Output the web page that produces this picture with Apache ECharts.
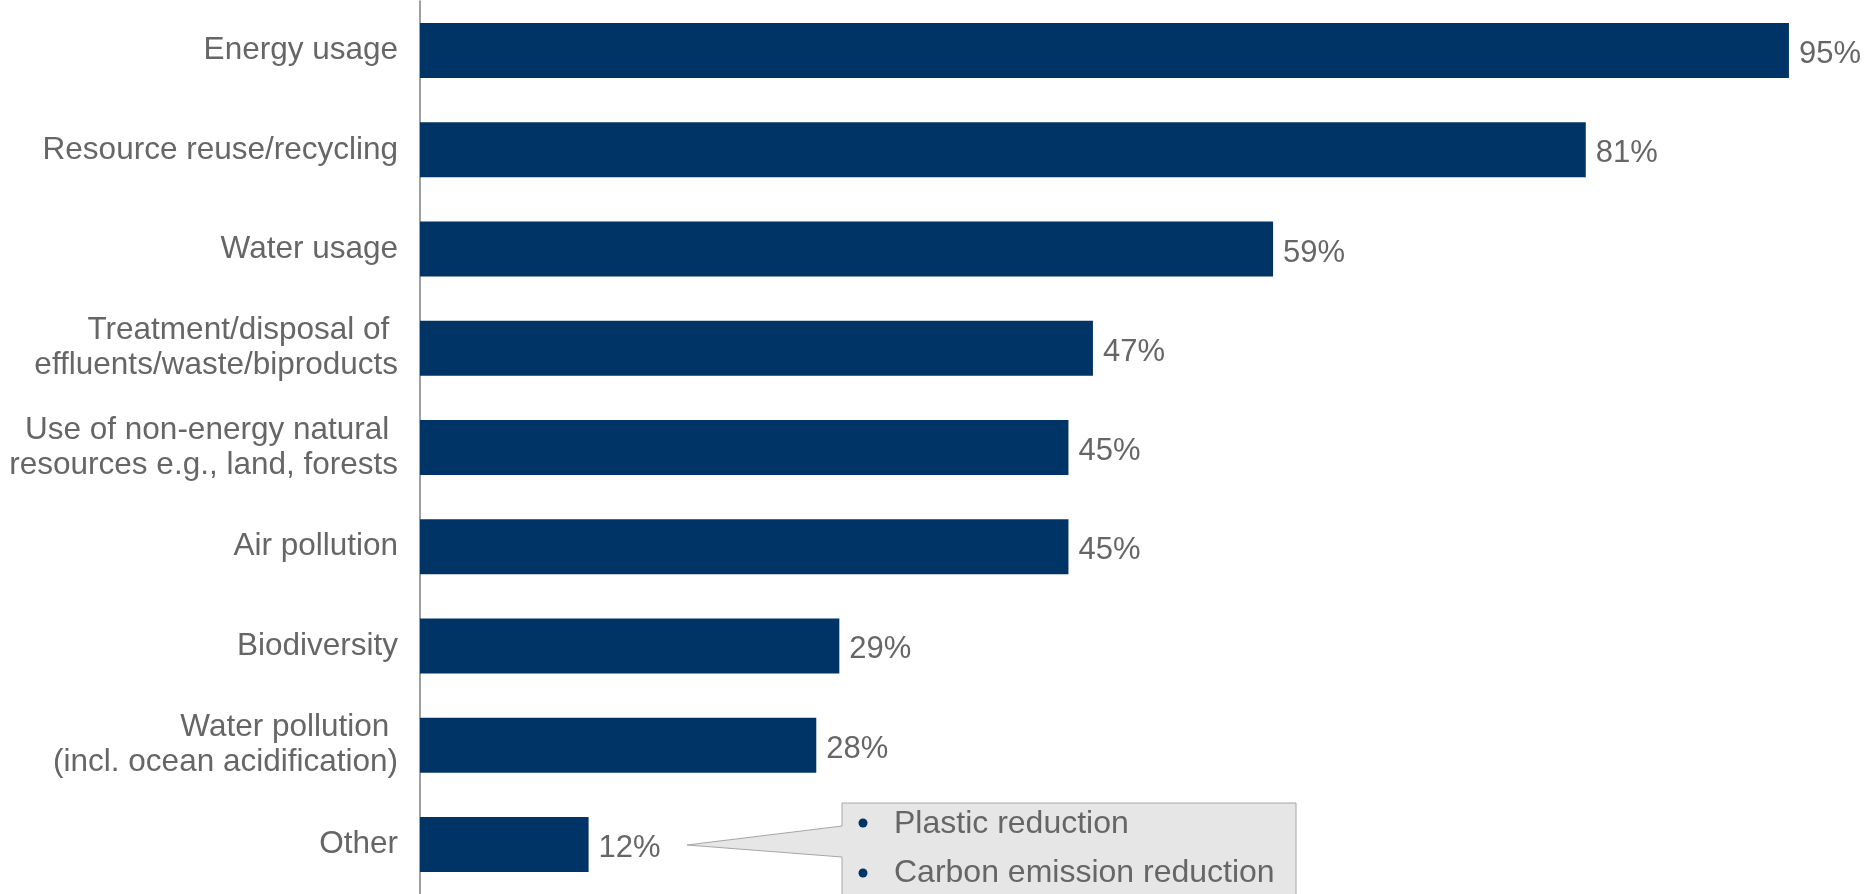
<!DOCTYPE html>
<html>
<head>
<meta charset="utf-8">
<script src="https://cdn.jsdelivr.net/npm/echarts@6/dist/echarts.min.js"></script>
<style>
html,body{margin:0;padding:0;background:#fff;}
#chart{width:1864px;height:894px;}
</style>
</head>
<body>
<div id="chart"></div>
<script>
const categories = [
  'Energy usage',
  'Resource reuse/recycling',
  'Water usage',
  'Treatment/disposal of \neffluents/waste/biproducts',
  'Use of non-energy natural \nresources e.g., land, forests',
  'Air pollution',
  'Biodiversity',
  'Water pollution \n(incl. ocean acidification)',
  'Other'
];
const values = [95, 80.9, 59.2, 46.7, 45, 45, 29.1, 27.5, 11.7];
const otherDetails = ['Plastic reduction', 'Carbon emission reduction'];

const FONT = '"Liberation Sans", Arial, sans-serif';
const GREY = '#666666';
const NAVY = '#003366';

const chart = echarts.init(document.getElementById('chart'));
chart.setOption({
  animation: false,
  backgroundColor: '#ffffff',
  grid: { left: 420, right: 3, top: 1, height: 896, containLabel: false },
  xAxis: {
    type: 'value', min: 0, max: 100,
    show: false, splitLine: { show: false }
  },
  yAxis: {
    type: 'category',
    data: categories,
    inverse: true,
    axisLine: { show: true, lineStyle: { color: '#7f7f7f', width: 1.5 } },
    axisTick: { show: false },
    axisLabel: {
      color: GREY, fontFamily: FONT, fontSize: 31.5, lineHeight: 35,
      margin: 22, align: 'right', padding: [9, 0, 0, 0]
    }
  },
  series: [{
    type: 'bar',
    data: values,
    barWidth: 55,
    itemStyle: { color: NAVY },
    label: {
      show: true, position: 'right', distance: 10, offset: [0, 4],
      color: GREY, fontFamily: FONT, fontSize: 31,
      formatter: p => Math.round(p.value) + '%'
    }
  }],
  graphic: [
    {
      type: 'polygon',
      shape: { points: [[842,803],[1296,803],[1296,905],[842,905],[842,857],[687,845],[842,826]] },
      style: { fill: '#e6e6e6', stroke: '#a6a6a6', lineWidth: 1 }
    },
    { type: 'circle', shape: { cx: 863, cy: 823, r: 4.5 }, style: { fill: NAVY } },
    { type: 'circle', shape: { cx: 863, cy: 873, r: 4.5 }, style: { fill: NAVY } },
    {
      type: 'text', left: 894, top: 808,
      style: { text: otherDetails[0], fill: GREY, font: '32px ' + FONT }
    },
    {
      type: 'text', left: 894, top: 857,
      style: { text: otherDetails[1], fill: GREY, font: '32px ' + FONT }
    }
  ]
});
</script>
</body>
</html>
